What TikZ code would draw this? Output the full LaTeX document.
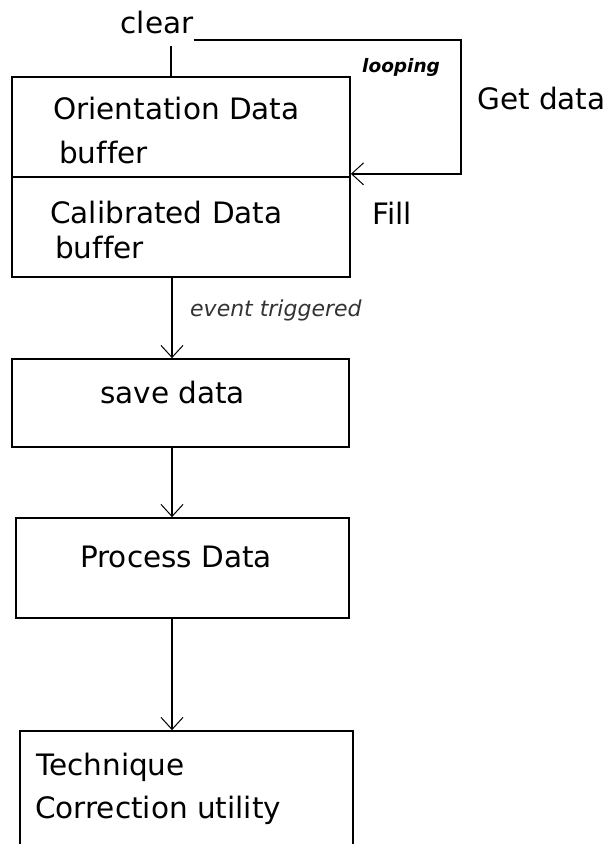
\documentclass[tikz,border=0pt]{standalone}
\usepackage{fontspec}
\setmainfont{DejaVu Sans}[Ligatures=NoCommon]
\usetikzlibrary{arrows.meta, positioning}

\tikzset{
  box/.style={draw, line width=1.7pt, minimum width=338pt, minimum height=100pt, inner sep=0pt},
  lbl/.style={anchor=west, inner sep=0pt, font=\fontsize{29.5}{35}\selectfont},
  arr/.style={line width=1.5pt, -{Straight Barb[length=12pt,width=22pt,line width=1pt]}},
}

\begin{document}
\begin{tikzpicture}[x=1pt, y=-1pt]
\useasboundingbox (0,0) rectangle (608,844);
\clip (0,0) rectangle (608,844);

% Data buffers
\node[box] (ori) at (181,127) {};
\node[box] (cal) at (181,227) {};
\node[lbl] (oritxt) at (53,108) {Orientation Data};
\node[lbl] (oribuf) at (59,152) {buffer};
\node[lbl] (caltxt) at (50,212) {Calibrated Data};
\node[lbl] (calbuf) at (55,247) {buffer};

% Clear and the fill loop
\node[lbl, anchor=center] (clear) at (157,22) {clear};
\draw[line width=1.5pt] ([xshift=-10pt]ori.north) -- ++(0,-30);
\coordinate (loopcorner) at (461,40);
\draw[arr] ([yshift=-18pt]clear.east) -- (loopcorner) |- ([yshift=4pt]ori.south east);
\node[lbl, font=\fontsize{18.5}{22}\selectfont\bfseries\itshape] (looping) at (362,67) {looping};
\node[lbl] (getdata) at (477,98) {Get data};
\node[lbl] (fill) at (372,213) {Fill};

% Save data
\node[box, minimum width=337pt, minimum height=88pt] (save) at (180.5,403) {};
\node[lbl] (savetxt) at (100,392) {save data};
\draw[arr] ([xshift=-9pt]cal.south) -- ([xshift=-8.5pt]save.north);
\node[lbl, font=\fontsize{22}{26}\selectfont\itshape, text=black!80] (event) at (190,310) {event triggered};

% Process data
\node[box, minimum width=333pt] (proc) at (182.5,568) {};
\node[lbl] (proctxt) at (80,557) {Process Data};
\draw[arr] ([xshift=-8.5pt]save.south) -- ([xshift=-10.5pt]proc.north);

% Correction utility
\node[box, minimum width=333pt, minimum height=150pt] (tech) at (186.5,806) {};
\node[lbl] (techtxt) at (36,767) {Technique};
\node[lbl] (corrtxt) at (35,810) {Correction utility};
\draw[arr] ([xshift=-10.5pt]proc.south) -- ([xshift=-14.5pt]tech.north);
\end{tikzpicture}
\end{document}
